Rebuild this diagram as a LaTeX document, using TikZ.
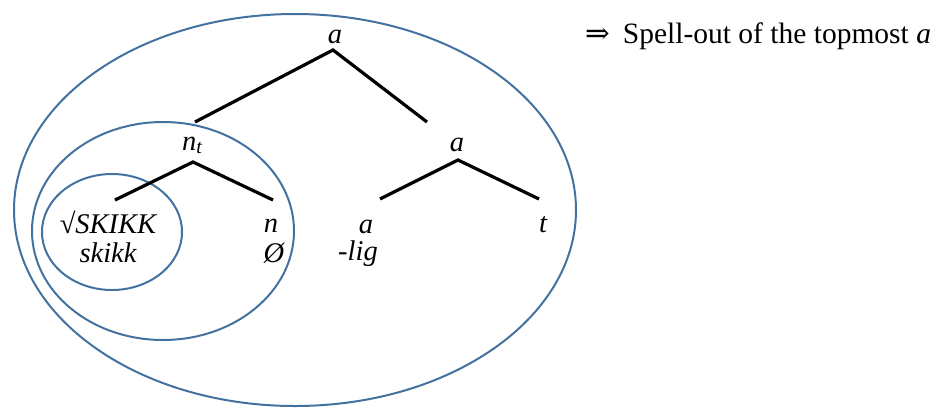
\documentclass[tikz,border=0pt]{standalone}
\usepackage{fontspec}
\setmainfont{Liberation Serif}
\newfontfamily\arrowfont{DejaVu Serif}
\definecolor{ringblue}{RGB}{68,114,160}
\tikzset{
  ring/.style={draw=ringblue, line width=2pt},
  branch/.style={draw=black, line width=3.2pt},
  lbl/.style={inner sep=0pt, anchor=base, font=\fontsize{28.5}{32}\selectfont\itshape},
  note/.style={inner sep=0pt, anchor=base west, font=\fontsize{29.5}{34}\selectfont}
}
\begin{document}
\begin{tikzpicture}[x=1pt,y=-1pt]
\useasboundingbox (0,0) rectangle (948,408);
% rings
\draw[ring] (295,210) ellipse [x radius=281, y radius=196];
\draw[ring] (163,231) ellipse [x radius=131, y radius=109];
\draw[ring] (112,232) ellipse [x radius=70, y radius=58];
% labels
\node[lbl] (top) at (335,43) {a};
\node[lbl] (nt) at (192,150) {n\raisebox{-0.25ex}{\fontsize{20}{22}\selectfont t}};
\node[lbl] (am) at (457,151) {a};
\node[lbl] (root) at (108,233) {√SKIKK};
\node[lbl] (rootx) at (108,262) {skikk};
\node[lbl] (n) at (271,232) {n};
\node[lbl] (nx) at (274,262) {Ø};
\node[lbl] (al) at (366,233) {a};
\node[lbl] (alx) at (358,260) {-lig};
\node[lbl] (t) at (543,232) {t};
\node[note] (note) at (585,43) {{\arrowfont ⇒}\hspace{13pt}Spell-out of the topmost \textit{a}};
% branch points
\coordinate (topA) at (333,50);
\coordinate (ntU) at (195,122);
\coordinate (amU) at (427,122);
\coordinate (ntA) at (193,162);
\coordinate (rootU) at (115,200);
\coordinate (nU) at (273,200);
\coordinate (amA) at (458,160);
\coordinate (alU) at (380,199);
\coordinate (tU) at (539,199);
\draw[branch] (ntU) -- (topA) -- (amU);
\draw[branch] (rootU) -- (ntA) -- (nU);
\draw[branch] (alU) -- (amA) -- (tU);
\end{tikzpicture}
\end{document}
